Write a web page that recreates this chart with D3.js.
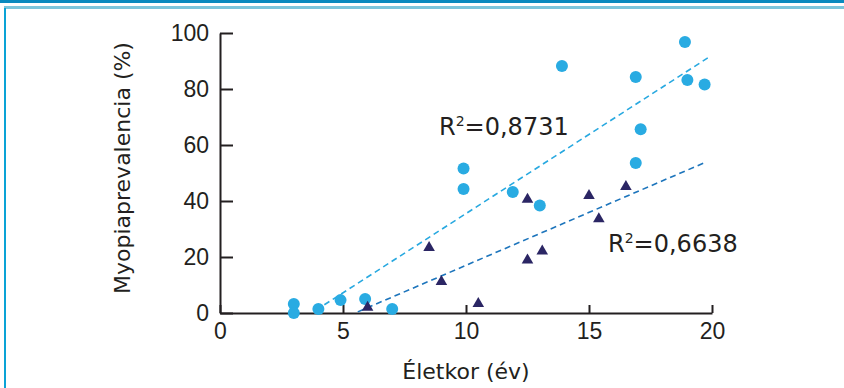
<!DOCTYPE html>
<html>
<head>
<meta charset="utf-8">
<script src="https://cdn.jsdelivr.net/npm/d3@7"></script>
<style>
  html, body { margin: 0; padding: 0; background: #fff; }
  svg { display: block; font-family: "DejaVu Sans", sans-serif; }
  .axis path, .axis line { stroke: #231f20; stroke-width: 2; }
  .axis text { fill: #231f20; font-size: 23px; }
</style>
</head>
<body>
<svg width="844" height="388"></svg>
<script>
// circles series (age, prevalence %)
const circleAge = [3, 3, 4, 4.9, 5.9, 7, 9.9, 9.9, 11.9, 13, 13.9, 16.9, 17.1, 16.9, 18.9, 19, 19.7];
const circlePrev = [3.2, 0, 1.4, 4.6, 5, 1.4, 51.6, 44.3, 43.2, 38.4, 88.2, 84.3, 65.6, 53.6, 96.8, 83.2, 81.6];

// triangles series
const triAge = [6, 8.5, 9, 10.5, 12.5, 12.5, 13.1, 15, 15.4, 16.5];
const triPrev = [2, 23.3, 11.2, 3.3, 40.6, 18.9, 22.1, 41.9, 33.6, 45.1];

// trend lines: [x, y] ends
const trendCircle = [[3.9, 1], [19.9, 91.5]];
const trendTri = [[5.6, 0.4], [19.65, 53.5]];

const xTicks = [0, 5, 10, 15, 20];
const yTicks = [0, 20, 40, 60, 80, 100];
const r2Labels = ["0,8731", "0,6638"];

const svg = d3.select('svg');

// frame
svg.append('rect').attr('x', 0).attr('y', 0).attr('width', 844).attr('height', 3).attr('fill', '#0a8abf');
svg.append('rect').attr('x', 4).attr('y', 6).attr('width', 840).attr('height', 3).attr('fill', '#7cc6dc');
svg.append('rect').attr('x', 4).attr('y', 8).attr('width', 2).attr('height', 380).attr('fill', '#0aa3d6');

const x = d3.scaleLinear().domain([0, 20]).range([220, 712]);
const y = d3.scaleLinear().domain([0, 100]).range([313, 33]);

// axes (ticks point inward)
svg.append('g')
  .attr('class', 'axis')
  .attr('transform', 'translate(0,313)')
  .call(d3.axisBottom(x).tickValues(xTicks).tickSizeInner(-8).tickSizeOuter(0).tickPadding(10))
  .call(g => g.selectAll('text').attr('dy', '0.71em'));

svg.append('g')
  .attr('class', 'axis')
  .attr('transform', 'translate(220,0)')
  .call(d3.axisLeft(y).tickValues(yTicks).tickSizeInner(-13).tickSizeOuter(0).tickPadding(11));

// trend lines
const line = d3.line().x(d => x(d[0])).y(d => y(d[1]));
svg.append('path').datum(trendCircle)
  .attr('d', line).attr('fill', 'none')
  .attr('stroke', '#29a9e0').attr('stroke-width', 1.6).attr('stroke-dasharray', '6,4');
svg.append('path').datum(trendTri)
  .attr('d', line).attr('fill', 'none')
  .attr('stroke', '#1d75bc').attr('stroke-width', 1.6).attr('stroke-dasharray', '6,4');

// circles
svg.append('g').selectAll('circle')
  .data(circleAge.map((a, i) => [a, circlePrev[i]]))
  .enter().append('circle')
  .attr('cx', d => x(d[0]))
  .attr('cy', d => y(d[1]))
  .attr('r', 6)
  .attr('fill', '#29abe2');

// triangles
const tri = d3.symbol().type(d3.symbolTriangle).size(58);
svg.append('g').selectAll('path')
  .data(triAge.map((a, i) => [a, triPrev[i]]))
  .enter().append('path')
  .attr('d', tri)
  .attr('transform', d => `translate(${x(d[0])},${y(d[1])})`)
  .attr('fill', '#2b2664');

// R2 labels
const r2 = svg.append('g').attr('font-size', 24).attr('fill', '#231f20');
[[439, 135], [608, 252]].forEach((p, i) => {
  const t = r2.append('text').attr('x', p[0]).attr('y', p[1]);
  t.append('tspan').text('R');
  t.append('tspan').attr('font-size', 14).attr('dy', -9).text('2');
  t.append('tspan').attr('dy', 9).text('=' + r2Labels[i]);
});

// axis titles
svg.append('text')
  .attr('x', x(10)).attr('y', 379)
  .attr('text-anchor', 'middle')
  .attr('font-size', 22).attr('fill', '#231f20')
  .text('Életkor (év)');

svg.append('text')
  .attr('transform', 'translate(130,168) rotate(-90)')
  .attr('text-anchor', 'middle')
  .attr('font-size', 22).attr('fill', '#231f20')
  .text('Myopiaprevalencia (%)');
</script>
</body>
</html>
